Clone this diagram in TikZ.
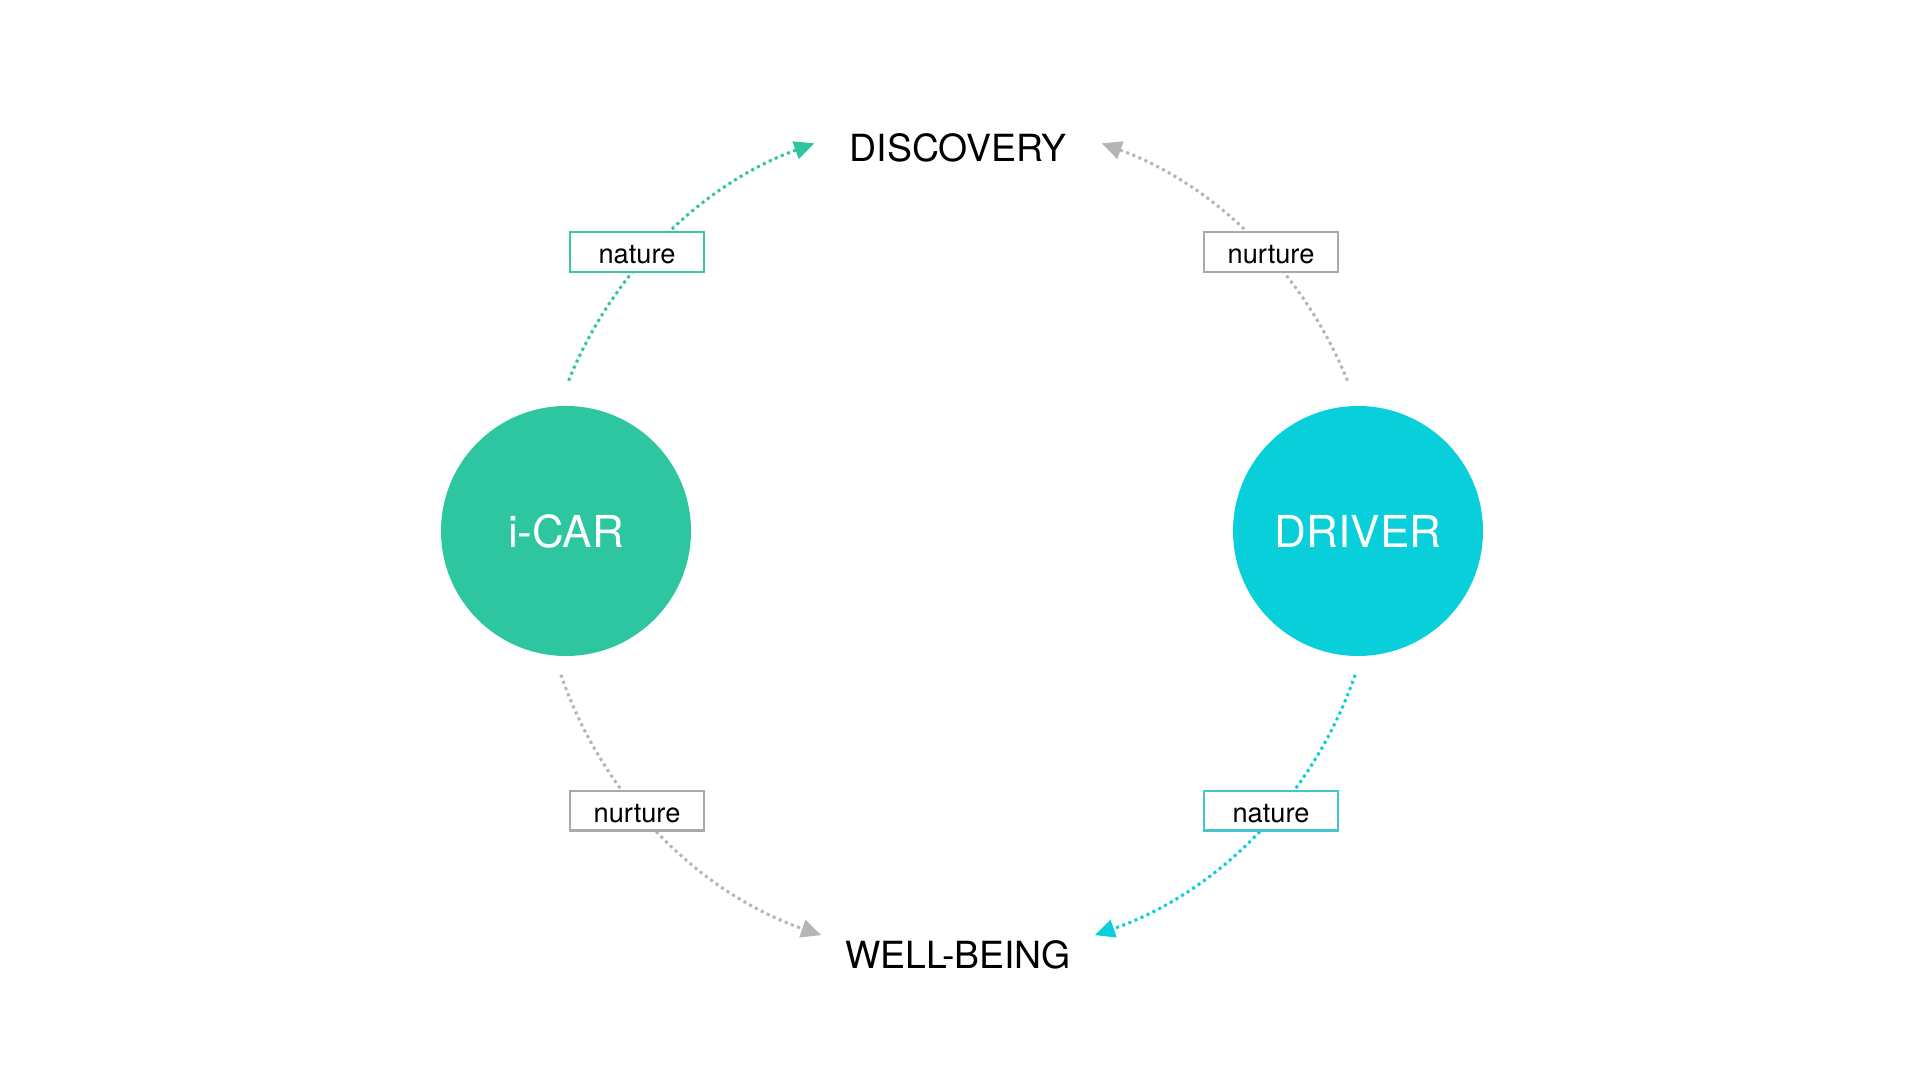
\documentclass[tikz,border=0pt]{standalone}
\usepackage{fontspec}
\setmainfont{TeX Gyre Heros}
\usetikzlibrary{arrows.meta}
\definecolor{cgreen}{HTML}{2DC6A1}
\definecolor{ccyan}{HTML}{08CFD9}
\definecolor{cgray}{HTML}{B5B5B5}
\definecolor{bgray}{HTML}{A9A9A9}
\definecolor{bgreen}{HTML}{3DC2A2}
\definecolor{bcyan}{HTML}{45C5CD}
\begin{document}
\begin{tikzpicture}[x=0.5pt,y=0.5pt,
  hub/.style={circle, inner sep=0pt, minimum size=125pt, text=white, font=\fontsize{22}{26}\selectfont},
  title/.style={anchor=base, inner sep=0pt, font=\fontsize{18.7}{22}\selectfont},
  tag/.style={draw, fill=white, line width=1.2pt, minimum width=66.8pt, minimum height=19.8pt, inner sep=0pt, text height=12pt, text depth=0pt, font=\fontsize{13.6}{16}\selectfont},
  flow/.style={line width=1.5pt, dash pattern=on 1.5pt off 1.8pt, -{Triangle[length=10pt,width=9pt]}}]
\useasboundingbox (0,0) rectangle (1920,1078);
% hubs
\node[hub, fill=cgreen] (icar) at (566,547) {i-CAR};
\node[hub, fill=ccyan] (driver) at (1358,547) {DRIVER};
% titles
\node[title] (disc) at (958,916) {DISCOVERY};
\node[title] (well) at (958,110) {WELL-BEING};
% arc geometry
\coordinate (o) at (958,540);
\coordinate (tlS) at ([shift={(158:210pt)}]o);
\coordinate (trS) at ([shift={(22:210pt)}]o);
\coordinate (blS) at ([shift={(199:210pt)}]o);
\coordinate (brS) at ([shift={(-19:210pt)}]o);
% connectors
\draw[flow, cgreen] (tlS) arc[start angle=158, end angle=110, radius=210pt];
\draw[flow, cgray] (trS) arc[start angle=22, end angle=70, radius=210pt];
\draw[flow, cgray] (blS) arc[start angle=199, end angle=251, radius=210pt];
\draw[flow, ccyan] (brS) arc[start angle=-19, end angle=-71, radius=210pt];
% tags
\node[tag, draw=bgreen] (t1) at (637,826) {nature};
\node[tag, draw=bgray] (t2) at (1271,826) {nurture};
\node[tag, draw=bgray] (t3) at (637,267.5) {nurture};
\node[tag, draw=bcyan] (t4) at (1271,267.5) {nature};
\end{tikzpicture}
\end{document}
